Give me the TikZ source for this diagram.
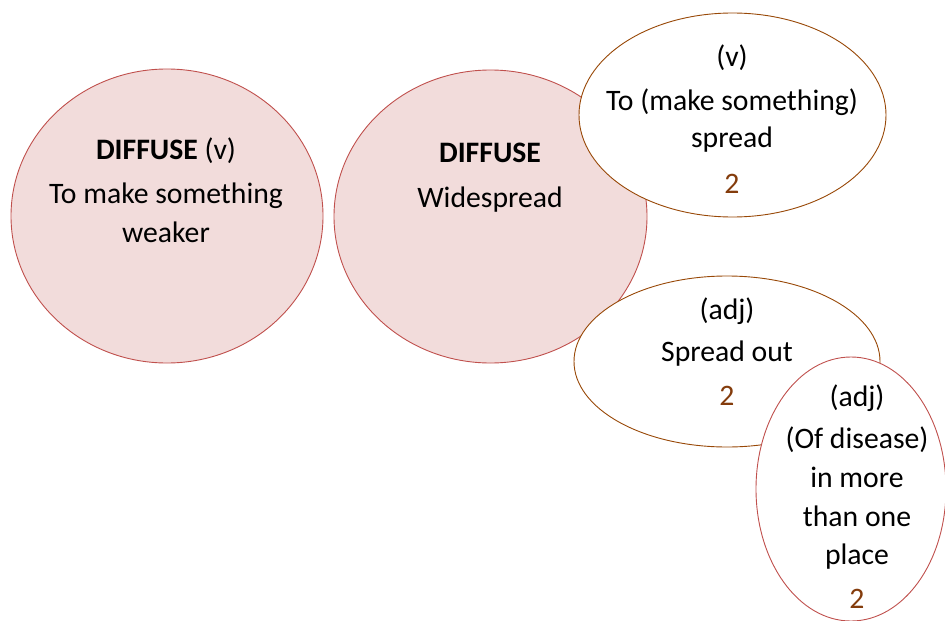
\documentclass[tikz,border=0pt]{standalone}
\usepackage{fontspec}
\setmainfont{Carlito}
\usetikzlibrary{shapes.geometric}
\definecolor{rosefill}{HTML}{F2DCDB}
\definecolor{roseline}{HTML}{C0504D}
\definecolor{brownline}{HTML}{984807}
\definecolor{browntext}{HTML}{843C0C}
\tikzset{
  bubble/.style={ellipse, draw, line width=0.9pt, inner sep=0pt},
  headword/.style={bubble, draw=roseline, fill=rosefill},
  sense/.style={bubble, draw=brownline, fill=white},
  extra/.style={bubble, draw=roseline, fill=white},
  ln/.style={anchor=base, inner sep=0pt, font=\fontsize{29.7}{35}\selectfont},
  cnt/.style={ln, text=browntext}
}
\begin{document}
\begin{tikzpicture}[x=1pt, y=-1pt]
\useasboundingbox (0,0) rectangle (945,621);
% headword circles
\node[headword, minimum width=312pt, minimum height=294pt] (h1) at (167,216) {};
\node[headword, minimum width=313pt, minimum height=293pt] (h2) at (490.5,216.5) {};
% sense bubbles
\node[sense, minimum width=307pt, minimum height=204pt] (s1) at (732.5,115) {};
\node[sense, minimum width=306pt, minimum height=171pt] (s2) at (727,361.5) {};
\node[extra, minimum width=190pt, minimum height=264pt] (s3) at (851,489) {};
% first headword
\node[ln] (h1a) at (166,159) {\textbf{DIFFUSE} (v)};
\node[ln] (h1b) at (166,203) {To make something};
\node[ln] (h1c) at (166,242) {weaker};
% second headword
\node[ln] (h2a) at (490,162) {\textbf{DIFFUSE}};
\node[ln] (h2b) at (490,207) {Widespread};
% verb sense
\node[ln] (s1a) at (732,66) {(v)};
\node[ln] (s1b) at (732,110) {To (make something)};
\node[ln] (s1c) at (732,147) {spread};
\node[cnt] (s1d) at (732,193) {2};
% adjective sense
\node[ln] (s2a) at (727,319) {(adj)};
\node[ln] (s2b) at (727,361) {Spread out};
\node[cnt] (s2c) at (727,405) {2};
% adjective sense, disease
\node[ln] (s3a) at (857,406) {(adj)};
\node[ln] (s3b) at (857,448) {(Of disease)};
\node[ln] (s3c) at (857,487) {in more};
\node[ln] (s3d) at (857,526) {than one};
\node[ln] (s3e) at (857,564) {place};
\node[cnt] (s3f) at (857,608) {2};
\end{tikzpicture}
\end{document}
